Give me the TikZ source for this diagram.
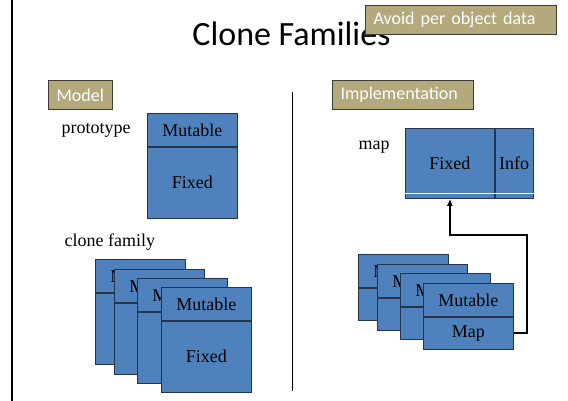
\documentclass[tikz,border=0pt]{standalone}
\usepackage{fontspec}
\setmainfont{Liberation Serif}
\newfontfamily\slidefont{Carlito}
\usetikzlibrary{positioning, arrows.meta}

\definecolor{cellblue}{HTML}{4F81BD}
\definecolor{cellline}{HTML}{24344A}
\definecolor{tagfill}{HTML}{B3A97C}
\definecolor{tagline}{HTML}{3F3D33}

\begin{document}
\begin{tikzpicture}[x=1pt, y=-1pt,
    cell/.style={draw=cellline, line width=0.8pt, fill=cellblue, rectangle, inner sep=0pt,
      minimum width=90pt, font=\fontsize{18}{20}\selectfont},
    tag/.style={draw=tagline, line width=1pt, fill=tagfill, rectangle, text=white, align=left,
      inner xsep=8pt, inner ysep=0pt, minimum height=29pt, anchor=north west,
      font=\slidefont\fontsize{18}{20}\selectfont},
    note/.style={anchor=base west, font=\fontsize{18}{20}\selectfont},
    link/.style={line width=2.4pt, -{Latex[length=7pt,width=6pt]}}]
      \useasboundingbox (0,0) rectangle (568,401);

      % slide frame and column divider
      \draw[line width=2.5pt] (12,0) -- (12,401);
      \draw[line width=1pt] (292,92) -- (292,391);

      \node[font=\slidefont\fontsize{34}{40}\selectfont, anchor=base] (title) at (291.5,46) {Clone Families};
      \node[tag, text width=175pt] (avoid) at (365,5) {Avoid per object data};
      \node[tag, text width=48pt] (model) at (48,80) {Model};
      \node[tag, text width=125pt] (impl) at (332,80) {Implementation};

      % model: one prototype
      \node[note] (protolbl) at (58,134) {prototype};
      \node[cell, minimum height=33pt, anchor=north west] (pm) at (147,113) {Mutable};
      \node[cell, minimum height=71pt, below=0pt of pm] (pf) {Fixed};

      % model: clone family, back to front
      \node[note] (clonelbl) at (61,247) {clone family};
      \node[cell, minimum height=33pt, anchor=north west] (c1m) at (95,259) {Mutable};
      \node[cell, minimum height=71pt, below=0pt of c1m] (c1f) {Fixed};
      \node[cell, minimum height=33pt, anchor=north west] (c2m) at (114,269) {Mutable};
      \node[cell, minimum height=71pt, below=0pt of c2m] (c2f) {Fixed};
      \node[cell, minimum height=33pt, anchor=north west] (c3m) at (137,278) {Mutable};
      \node[cell, minimum height=71pt, below=0pt of c3m] (c3f) {Fixed};
      \node[cell, minimum height=33pt, anchor=north west] (c4m) at (161,287) {Mutable};
      \node[cell, minimum height=71pt, below=0pt of c4m] (c4f) {Fixed};

      % implementation: shared map
      \node[note] (maplbl) at (355,150) {map};
      \node[cell, minimum width=89pt, minimum height=70pt, anchor=north west] (mapfix) at (405,128) {Fixed};
      \node[cell, minimum width=38pt, minimum height=70pt, right=0pt of mapfix] (mapinfo) {Info};
      \draw[white, line width=1pt] ([yshift=5pt]mapfix.south west) -- ([yshift=5pt]mapinfo.south east);

      % implementation: objects pointing to the map
      \node[cell, minimum height=33pt, anchor=north west] (i1m) at (358,254) {Mutable};
      \node[cell, minimum height=32pt, below=0pt of i1m] (i1b) {Map};
      \node[cell, minimum height=33pt, anchor=north west] (i2m) at (377,264) {Mutable};
      \node[cell, minimum height=32pt, below=0pt of i2m] (i2b) {Map};
      \node[cell, minimum height=33pt, anchor=north west] (i3m) at (400,273) {Mutable};
      \node[cell, minimum height=32pt, below=0pt of i3m] (i3b) {Map};
      \node[cell, minimum height=33pt, anchor=north west] (i4m) at (423,283) {Mutable};
      \node[cell, minimum height=32pt, below=0pt of i4m] (i4b) {Map};

      \coordinate (bend) at (527,235);
      \draw[link] (i4b.east) -| (bend) -| (mapfix.south);
    \end{tikzpicture}
\end{document}
